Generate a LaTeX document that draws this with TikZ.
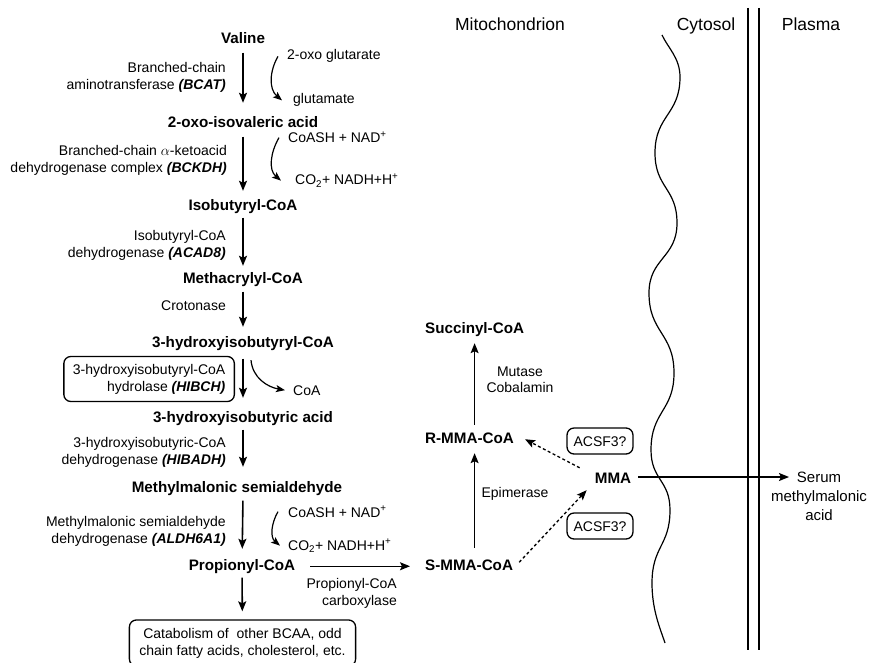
\documentclass[tikz,border=0pt]{standalone}
\usepackage{fontspec}
\setmainfont{Liberation Sans}
\usetikzlibrary{arrows.meta}

\begin{document}
\begin{tikzpicture}[x=1pt,y=-1pt,
    met/.style={font=\fontsize{15.2}{18}\selectfont\bfseries, inner sep=0pt, text height=11pt, text depth=3.5pt, anchor=base},
    enz/.style={font=\fontsize{14}{17}\selectfont, inner sep=0pt, align=right, anchor=east},
    cof/.style={font=\fontsize{14}{17}\selectfont, inner sep=0pt, anchor=base west},
    region/.style={font=\fontsize{17.5}{20}\selectfont, inner sep=0pt, anchor=base},
    rbox/.style={draw, line width=1.3pt, rounded corners=7pt},
    arr/.style={-{Stealth[length=10pt,width=8pt,inset=2pt]}, line width=1.6pt},
    thinarr/.style={-{Stealth[length=10pt,width=8pt,inset=2pt]}, line width=1.3pt},
    bendarr/.style={-{Stealth[length=9pt,width=7pt,inset=2pt]}, line width=1.2pt},
    dasharr/.style={thinarr, dash pattern=on 3pt off 2.5pt}]
    \useasboundingbox (0,0) rectangle (872,663);

    \node[region] (mito) at (510,31) {Mitochondrion};
    \node[region] (cyto) at (706,31) {Cytosol};
    \node[region] (plasma) at (811,31) {Plasma};

    \node[met] (val) at (243,44) {Valine};
    \node[met] (oxo) at (243,128) {2-oxo-isovaleric acid};
    \node[met] (isob) at (243,210) {Isobutyryl-CoA};
    \node[met] (meth) at (243,283) {Methacrylyl-CoA};
    \node[met] (hibcoa) at (243,347) {3-hydroxyisobutyryl-CoA};
    \node[met] (hiba) at (243,422) {3-hydroxyisobutyric acid};
    \node[met] (mms) at (237,492) {Methylmalonic semialdehyde};
    \node[met] (prop) at (242,570) {Propionyl-CoA};
    \node[met, anchor=base west] (smma) at (425,570) {S-MMA-CoA};
    \node[met, anchor=base west] (rmma) at (425,443) {R-MMA-CoA};
    \node[met, anchor=base west] (succ) at (425,333) {Succinyl-CoA};
    \node[met] (mma) at (613,483) {MMA};

    \node[enz] (bcat) at (226,77) {Branched-chain\\aminotransferase \textbf{\textit{(BCAT)}}};
    \node[enz] (bckdh) at (227,160.5) {Branched-chain $\alpha$-ketoacid\\dehydrogenase complex \textbf{\textit{(BCKDH)}}};
    \node[enz] (acad) at (226,245) {Isobutyryl-CoA\\dehydrogenase \textbf{\textit{(ACAD8)}}};
    \node[enz, anchor=base east] (crot) at (226,310) {Crotonase};
    \node[enz, rbox, inner xsep=9pt, inner ysep=7.5pt] (hibch) at (235,379) {3-hydroxyisobutyryl-CoA\\hydrolase \textbf{\textit{(HIBCH)}}};
    \node[enz] (hibadh) at (226,452.5) {3-hydroxyisobutyric-CoA\\dehydrogenase \textbf{\textit{(HIBADH)}}};
    \node[enz] (aldh) at (226,531) {Methylmalonic semialdehyde\\dehydrogenase \textbf{\textit{(ALDH6A1)}}};
    \node[enz] (pcc) at (397,593) {Propionyl-CoA\\carboxylase};
    \node[enz, align=center, anchor=center, font=\fontsize{14}{16}\selectfont] (mut) at (520,380) {Mutase\\Cobalamin};
    \node[enz, anchor=base] (epi) at (515,497) {Epimerase};
    \node[enz, rbox, anchor=center, text height=10pt, text depth=0pt, inner xsep=6.5pt, inner ysep=8pt] (acsf1) at (600,441) {ACSF3?};
    \node[enz, rbox, anchor=center, text height=10pt, text depth=0pt, inner xsep=6.5pt, inner ysep=8pt] (acsf2) at (600,526) {ACSF3?};
    \node[enz, rbox, align=center, anchor=center, inner xsep=10pt, inner ysep=8pt] (catab) at (242.5,643) {Catabolism of\ \ other BCAA, odd\\chain fatty acids, cholesterol, etc.};

    \node[cof] (oxoglu) at (287,60) {2-oxo glutarate};
    \node[cof] (glu) at (293,104) {glutamate};
    \node[cof] (coasha) at (288,143) {CoASH + NAD\textsuperscript{+}};
    \node[cof] (cotwoa) at (295,185) {CO\textsubscript{2}+ NADH+H\textsuperscript{+}};
    \node[cof] (coa) at (293,395) {CoA};
    \node[cof] (coashb) at (288,517) {CoASH + NAD\textsuperscript{+}};
    \node[cof] (cotwob) at (288,550) {CO\textsubscript{2}+ NADH+H\textsuperscript{+}};
    \node[enz, align=center, anchor=north, font=\fontsize{15}{19}\selectfont] (serum) at (819,472) {Serum\\methylmalonic\\acid};
    \coordinate (serumtip) at (789,477);

    \draw[arr, shorten <=5pt, shorten >=14pt] (val) -- (oxo);
    \draw[arr, shorten <=5pt, shorten >=8pt] (oxo) -- (isob);
    \draw[arr, shorten <=4pt, shorten >=6pt] (isob) -- (meth);
    \draw[arr, shorten <=5pt, shorten >=9pt] (meth) -- (hibcoa);
    \draw[arr, shorten <=8pt, shorten >=13pt] (hibcoa) -- (hiba);
    \draw[arr, shorten <=4pt, shorten >=14pt] (hiba) -- (hiba |- mms.north);
    \draw[arr, shorten <=5pt, shorten >=10pt] (hiba |- mms.south) -- (prop);
    \draw[arr, shorten <=4pt, shorten >=8pt] (prop) -- (catab);

    \draw[bendarr] ([xshift=-9pt]oxoglu.west) to[out=240,in=140] ([xshift=-11pt]glu.west);
    \draw[bendarr] ([xshift=-9pt]coasha.west) to[out=240,in=140] ([xshift=-14pt]cotwoa.west);
    \draw[bendarr] ([xshift=8pt,yshift=-9.5pt]hibcoa.south) to[out=275,in=170] ([xshift=-8pt]coa.west);
    \draw[bendarr] ([xshift=-10pt]coashb.west) to[out=240,in=140] ([xshift=-8pt]cotwob.west);

    \draw[thinarr, shorten <=15pt, shorten >=15pt] (prop.east) -- (smma.west);
    \draw[thinarr, shorten <=11pt, shorten >=6.5pt] (smma.north -| succ) -- (rmma.south -| succ);
    \draw[thinarr, shorten <=7pt, shorten >=6.5pt] (rmma.north -| succ) -- (succ.south);
    \draw[dasharr] ([xshift=-15pt,yshift=4pt]mma.north west) -- ([xshift=11pt]rmma.east);
    \draw[dasharr] ([xshift=6pt,yshift=4pt]smma.east) -- ([xshift=-8pt,yshift=-3.5pt]mma.south west);
    \draw[thinarr, shorten <=7pt] (mma.east |- serumtip) -- (serumtip);

    \draw[line width=1.2pt] (662,35) .. controls (668,48) and (680,58) .. (680,77)
        .. controls (680,115) and (655,115) .. (655,153)
        .. controls (655,188) and (677,188) .. (677,223)
        .. controls (677,258) and (649,258) .. (649,293)
        .. controls (649,333) and (674,333) .. (674,373)
        .. controls (674,411) and (651,411) .. (651,450)
        .. controls (651,480) and (670,480) .. (670,510)
        .. controls (670,546) and (652,546) .. (652,583)
        .. controls (652,610) and (660,628) .. (665,643);
    \draw[line width=2.6pt] (748,8) -- (748,650);
    \draw[line width=2.6pt] (759,8) -- (759,650);
\end{tikzpicture}
\end{document}
